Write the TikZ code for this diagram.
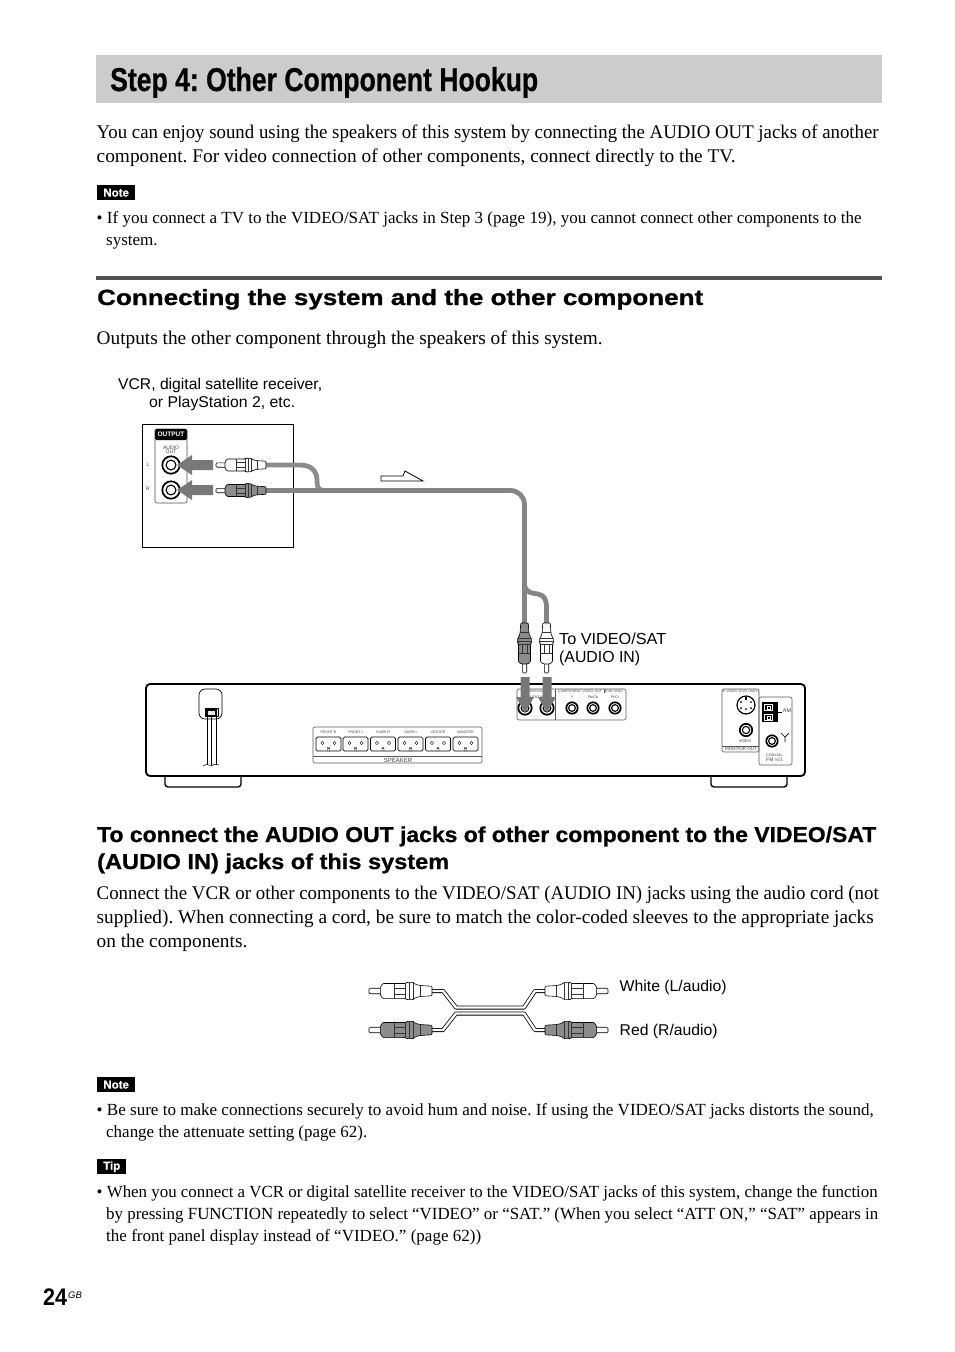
\documentclass[tikz,border=0pt]{standalone}
\usepackage{graphicx}
\usepackage{fontspec}
\setmainfont{Liberation Serif}
\newfontfamily\titlefont[FakeBold=0.7]{Liberation Sans Bold}
\newfontfamily\widefont[FakeBold=0.8]{Liberation Sans Bold}
\newfontfamily\pagefont{Liberation Sans Bold}
\newfontfamily\smallsans{Liberation Sans}
\newcommand{\fs}[1]{\fontsize{#1pt}{#1pt}\selectfont}
\newcommand{\fitw}[2]{\resizebox{#1pt}{\height}{#2}}
\frenchspacing
\definecolor{cablegray}{gray}{0.52}
\definecolor{arrowgray}{gray}{0.47}
\definecolor{redplug}{gray}{0.55}
\tikzset{
  x=1pt,y=-1pt,
  body/.style={anchor=base west,inner sep=0pt,font=\fs{19.3}},
  notetext/.style={anchor=base west,inner sep=0pt,font=\fs{17}},
  lab/.style={anchor=base west,inner sep=0pt,font=\smallsans\fs{15.6}},
  tiny/.style={inner sep=0pt,font=\smallsans\fs{3.6},text=black!75},
  tagbox/.style={fill=black,text=white,font=\widefont\fs{11.5},inner sep=0pt,minimum height=15pt,anchor=north west},
  cable/.style={draw=cablegray,line width=4.8pt},
  flowarrow/.style={draw=none,fill=arrowgray},
  line/.style={draw=black,line width=0.8pt},
  jackline/.style={draw=black!85,line width=0.6pt,rounded corners=2pt},
  pics/rca/.style={code={
    \path[fill=white,draw=black,line width=.6pt,rounded corners=1.2pt] (9,-2.2) -- (0,-2.2) -- (0,2.2) -- (9,2.2);
    \path[fill=#1,draw=black,line width=.6pt,rounded corners=1pt] (9,-3) -- (11,-6) -- (29,-6) -- (30,-6.8) -- (35,-6.8) -- (37,-5.2) -- (41,-4.3) -- (50,-3.8) -- (50,3.8) -- (41,4.3) -- (37,5.2) -- (35,6.8) -- (30,6.8) -- (29,6) -- (11,6) -- (9,3) -- cycle;
    \draw[black!80,line width=.35pt] (29,-6) -- (29,6) (32,-6.8) -- (32,6.8) (35,-6.8) -- (35,6.8) (20,-6) -- (20,6) (20,-2.5) -- (29,-2.5) (20,2.5) -- (29,2.5) (41,-4.3) -- (41,4.3);
  }},
  pics/jack/.style={code={
    \draw[black,line width=1.7pt,fill=white] (0,0) circle ({#1-0.8});
    \draw[black,line width=1.1pt] (0,0) circle ({0.52*#1});
    \fill[white] (0,0) circle ({0.3*#1});
  }},
  pics/terminal/.style={code={
    \draw[black,line width=.7pt,rounded corners=1.5pt,fill=white] (0,0) rectangle (25,14);
    \draw[black,line width=.4pt] (6.5,6) circle (1.7) (18.5,6) circle (1.7);
    \draw[black,line width=.4pt] (11.5,14) -- (11.5,10.5) arc (180:0:1) -- (13.5,14);
  }},
}
\begin{document}
\begin{tikzpicture}
\useasboundingbox (0,0) rectangle (954,1352);
\fill[white] (0,0) rectangle (954,1352);
% ---------- Page heading and text ----------
\fill[black!20] (96,55) rectangle (882,103);
\node[anchor=base west,inner sep=0pt,font=\titlefont\fs{33}] (title) at (110,91) {\fitw{428}{Step 4: Other Component Hookup}};
\node[body] (p1a) at (96.5,138) {\fitw{782}{You can enjoy sound using the speakers of this system by connecting the AUDIO OUT jacks of another}};
\node[body] (p1b) at (96.5,162) {\fitw{639}{component. For video connection of other components, connect directly to the TV.}};
\node[tagbox,minimum width=38pt] (note1) at (97,185) {Note};
\node[notetext] (n1a) at (96.5,223) {\fitw{765}{• If you connect a TV to the VIDEO/SAT jacks in Step 3 (page 19), you cannot connect other components to the}};
\node[notetext] (n1b) at (106,245) {system.};
\fill[black!68] (96,276) rectangle (882,280);
\node[anchor=base west,inner sep=0pt,font=\widefont\fs{22}] (h2) at (97,305) {\fitw{606}{Connecting the system and the other component}};
\node[body] (p2) at (96.5,344) {\fitw{506}{Outputs the other component through the speakers of this system.}};
\node[lab] (vcr1) at (118,389) {\fitw{204}{VCR, digital satellite receiver,}};
\node[lab] (vcr2) at (149,407) {\fitw{146}{or PlayStation 2, etc.}};
% ---------- Component box ----------
\draw[line] (142,424) rectangle (293,547);
\draw[jackline,draw=black!70] (155,429) rectangle (187,503);
\path[fill=black,rounded corners=1.5pt] (155,440) -- (155,429) -- (187,429) -- (187,440) -- cycle;
\node[inner sep=0pt,text=white,font=\smallsans\bfseries\fs{6.5}] (out) at (171,434.5) {OUTPUT};
\node[tiny,font=\smallsans\fs{5},align=center] (aout) at (171,450) {AUDIO\\[-0.5pt]OUT};
\node[tiny,font=\smallsans\fs{5}] (lL) at (148,465) {L};
\node[tiny,font=\smallsans\fs{5}] (lR) at (148,489) {R};
\pic at (171,465) {jack=9.5};
\pic at (171,490) {jack=9.5};
% ---------- Cables ----------
\coordinate (plugL) at (266,465);
\coordinate (plugR) at (266,490.5);
\coordinate (joint) at (324,490.5);
\coordinate (bend) at (524.5,490.5);
\coordinate (plugV1) at (524.5,623);
\coordinate (split) at (525,587);
\coordinate (plugV2) at (546.5,623);
\draw[cable,draw=black!45] (plugL) -- (300,465) .. controls (311,465) and (317,471) .. (317,480) .. controls (317,487) and (318,490.5) .. (joint);
\draw[cable,rounded corners=14pt] (plugR) -- (bend) -- (plugV1);
\draw[cable] (split) .. controls (527,593) and (532,593) .. (538,594) .. controls (544,595) and (546.5,600) .. (546.5,606) -- (plugV2);
% ---------- Plugs ----------
\pic at (216,465) {rca=white};
\pic at (216,490.5) {rca=redplug};
\pic[rotate=90] at (524.5,673) {rca=redplug};
\pic[rotate=90] at (546.5,673) {rca=white};
% ---------- Flow arrow ----------
\path[draw=black,line width=.8pt,fill=white] (381,476) -- (403,476) -- (405,471) -- (423,481) -- (381,481) -- cycle;
% ---------- Rear panel ----------
\draw[black,line width=1.4pt,rounded corners=3pt] (165,776) -- (165,787) -- (241,787) -- (241,776);
\draw[black,line width=1.4pt,rounded corners=3pt] (711,776) -- (711,787) -- (787,787) -- (787,776);
\draw[black,line width=1.8pt,rounded corners=4pt,fill=white] (146,684) rectangle (805,776);
% power cord
\draw[black,line width=.7pt,rounded corners=6pt] (199,689) rectangle (222,719);
\draw[black,line width=.6pt,fill=black!10] (205,708) rectangle (218,716);
\draw[black,line width=1.2pt] (207,710) rectangle (216,716);
\draw[black,line width=.7pt] (207,716) -- (207,765) (211,716) -- (211,765) (216,716) -- (216,765);
\draw[black,line width=.5pt] (203,766) .. controls (207,764) .. (211,766) .. controls (214,764) .. (219,765);
% speaker block
\draw[jackline,draw=black!65] (313,727) rectangle (482,763);
\draw[black!65,line width=.5pt] (313,756) -- (482,756);
\pic at (316,737) {terminal};
\pic at (343,737) {terminal};
\pic at (370.5,737) {terminal};
\pic at (398,737) {terminal};
\pic at (425.5,737) {terminal};
\pic at (453,737) {terminal};
\node[tiny] (sp1) at (328.5,732) {FRONT R};
\node[tiny] (sp2) at (356,732) {FRONT L};
\node[tiny] (sp3) at (383,732) {SURR R};
\node[tiny] (sp4) at (411,732) {SURR L};
\node[tiny] (sp5) at (438,732) {CENTER};
\node[tiny] (sp6) at (465.5,732) {WOOFER};
\node[tiny,font=\smallsans\fs{6}] (spk) at (398,760) {SPEAKER};
% video/audio jack block
\draw[jackline,draw=black!65] (517,689) rectangle (626,720);
\draw[black!65,line width=.5pt] (555.5,689) -- (555.5,720);
\draw[black!65,line width=.5pt] (604,689) -- (604,693);
\node[tiny] (vs) at (536,691) {VIDEO/SAT};
\node[tiny] (ai) at (536,697) {AUDIO IN};
\node[tiny] (comp) at (580,691) {COMPONENT VIDEO OUT};
\node[tiny,anchor=center] (dvd) at (614,691) {DVD ONLY};
\node[tiny] (cy) at (572,697) {Y};
\node[tiny] (cb) at (593,697) {Pb/Cb};
\node[tiny] (cr) at (615,697) {Pr/Cr};
\pic at (525,708) {jack=7.5};
\pic at (547,708) {jack=7.5};
\pic at (572,708) {jack=6.5};
\pic at (593,708) {jack=6.5};
\pic at (615,708) {jack=6.5};
% monitor out
\draw[jackline,draw=black!65] (722,689) rectangle (759,752);
\draw[black!65,line width=.5pt] (722,746) -- (759,746);
\node[tiny] (sv) at (741,692) {S VIDEO (DVD ONLY)};
\node[tiny,font=\smallsans\fs{4}] (vid) at (745,741) {VIDEO};
\node[tiny,font=\smallsans\fs{4.5}] (mon) at (741,749) {MONITOR OUT};
\draw[black,line width=1.2pt,fill=white] (746,705) circle (9);
\fill[black] (745,697) rectangle (747,700);
\foreach \a/\b in {741/702,751/702,741/708,751/708,746/709} {\fill[black] (\a,\b) circle (1);}
\pic at (746,730) {jack=7};
% antenna
\draw[jackline,draw=black!65] (759,697) rectangle (792,765);
\fill[black] (762,702) rectangle (778,722);
\draw[white,line width=.6pt] (764,704) rectangle (772,710) (764,714) rectangle (772,720);
\draw[white,line width=.6pt] (767,706) rectangle (770,709) (767,716) rectangle (770,719);
\draw[black,line width=.6pt] (778,712) -- (782,712);
\node[tiny,font=\smallsans\fs{5.5}] (am) at (787,711) {AM};
\pic at (772,741) {jack=6.5};
\draw[black,line width=.7pt] (785,742) -- (785,737) -- (781,733) (785,737) -- (789,733);
\node[tiny,font=\smallsans\fs{3.8},align=left,anchor=west] (co1) at (766,755) {COAXIAL};
\node[tiny,font=\smallsans\fs{5},anchor=west] (co2) at (766,760) {FM\,{\fs{3.5}75$\Omega$}};
% ---------- Insert arrows ----------
\path[flowarrow] (213,460) -- (192,460) -- (192,455) -- (177,465) -- (192,475) -- (192,470) -- (213,470) -- cycle;
\path[flowarrow] (213,485) -- (192,485) -- (192,480) -- (177,490) -- (192,500) -- (192,495) -- (213,495) -- cycle;
\path[flowarrow] (520.5,677) -- (520.5,697) -- (516,697) -- (525,713) -- (534,697) -- (529.5,697) -- (529.5,677) -- cycle;
\path[flowarrow] (542.5,677) -- (542.5,697) -- (538,697) -- (547,713) -- (556,697) -- (551.5,697) -- (551.5,677) -- cycle;
\node[lab,font=\smallsans\fs{16}] (to1) at (559,644) {\fitw{107}{To VIDEO/SAT}};
\node[lab,font=\smallsans\fs{16}] (to2) at (559,662) {\fitw{81}{(AUDIO IN)}};
% ---------- Section ----------
\node[anchor=base west,inner sep=0pt,font=\widefont\fs{21.5}] (h3a) at (97,842) {\fitw{779}{To connect the AUDIO OUT jacks of other component to the VIDEO/SAT}};
\node[anchor=base west,inner sep=0pt,font=\widefont\fs{21.5}] (h3b) at (97,869) {\fitw{352}{(AUDIO IN) jacks of this system}};
\node[body] (p3a) at (96.5,899) {\fitw{782}{Connect the VCR or other components to the VIDEO/SAT (AUDIO IN) jacks using the audio cord (not}};
\node[body] (p3b) at (96.5,923) {\fitw{777}{supplied). When connecting a cord, be sure to match the color-coded sleeves to the appropriate jacks}};
\node[body] (p3c) at (96.5,947) {on the components.};
% ---------- Audio cord ----------
\coordinate (cl1) at (432,991);
\coordinate (cl2) at (432,1030);
\coordinate (cr1) at (546,991);
\coordinate (cr2) at (546,1030);
\foreach \w/\c in {4pt/black,2.4pt/white} {
  \draw[\c,line width=\w,line join=round] (cl1) -- (443,991) -- (456,1007.5) -- (524,1007.5) -- (535,991) -- (cr1);
  \draw[\c,line width=\w,line join=round] (cl2) -- (443,1030) -- (456,1013.5) -- (524,1013.5) -- (535,1030) -- (cr2);
}
\pic[scale=1.26] at (369,991) {rca=white};
\pic[scale=1.26] at (369,1030) {rca=redplug};
\pic[scale=1.26,xscale=-1] at (608,991) {rca=white};
\pic[scale=1.26,xscale=-1] at (608,1030) {rca=redplug};
\node[lab] (wl) at (619.5,991) {\fitw{107}{White (L/audio)}};
\node[lab] (rl) at (619.5,1035) {\fitw{98}{Red (R/audio)}};
% ---------- Lower notes ----------
\node[tagbox,minimum width=38pt] (note2) at (97,1077) {Note};
\node[notetext] (n2a) at (96.5,1115) {\fitw{777}{• Be sure to make connections securely to avoid hum and noise. If using the VIDEO/SAT jacks distorts the sound,}};
\node[notetext] (n2b) at (106,1137) {\fitw{261}{change the attenuate setting (page 62).}};
\node[tagbox,minimum width=29pt] (tip) at (97,1159) {Tip};
\node[notetext] (t1a) at (96.5,1197) {\fitw{781}{• When you connect a VCR or digital satellite receiver to the VIDEO/SAT jacks of this system, change the function}};
\node[notetext] (t1b) at (106,1219) {\fitw{772}{by pressing FUNCTION repeatedly to select “VIDEO” or “SAT.” (When you select “ATT ON,” “SAT” appears in}};
\node[notetext] (t1c) at (106,1241) {\fitw{375}{the front panel display instead of “VIDEO.” (page 62))}};
\node[anchor=base west,inner sep=0pt,font=\pagefont\fs{24}] (pg) at (43,1305) {\fitw{24}{24}};
\node[anchor=base west,inner sep=0pt,font=\smallsans\itshape\fs{9.5}] (gb) at (68,1298) {GB};
\end{tikzpicture}
\end{document}
